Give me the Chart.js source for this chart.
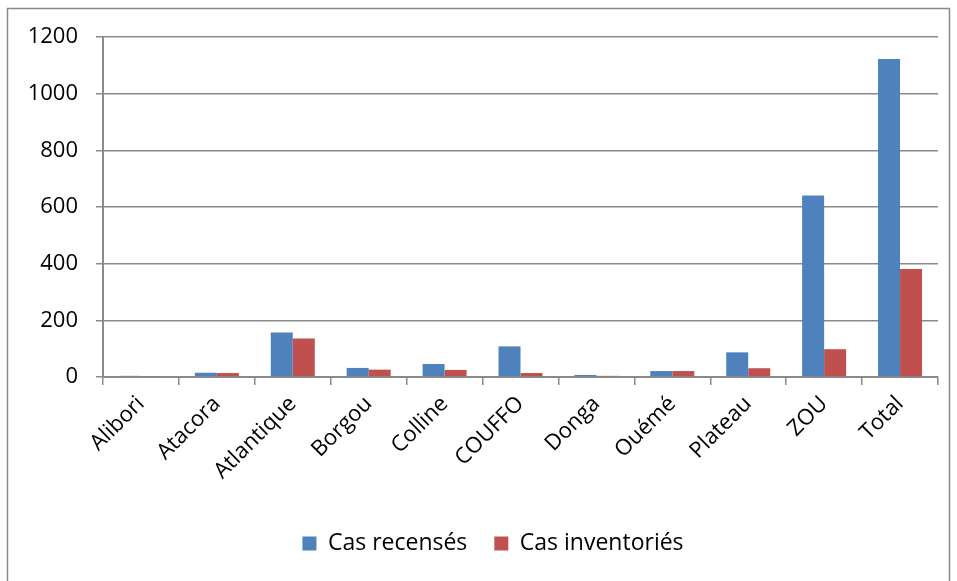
<!DOCTYPE html>
<html>
<head>
<meta charset="utf-8">
<script src="https://cdn.jsdelivr.net/npm/chart.js@4"></script>
<style>
  html, body { margin: 0; padding: 0; background: #fff; overflow: hidden; }
  #wrap { position: relative; width: 957px; height: 581px; }
</style>
</head>
<body>
<div id="wrap"><canvas id="myChart" width="957" height="581"></canvas></div>
<script>
const departements = ["Alibori", "Atacora", "Atlantique", "Borgou", "Colline", "COUFFO", "Donga", "Ouémé", "Plateau", "ZOU", "Total"];
const casRecenses = [4, 15, 157, 32, 46, 108, 7, 21, 87, 641, 1122];
const casInventories = [2, 14, 136, 26, 25, 14, 4, 21, 31, 98, 381];
const yTicks = [0, 200, 400, 600, 800, 1000, 1200];

const FONT = "'Open Sans', 'Liberation Sans', sans-serif";
const GRIS = "#8a8a8a";

// cadre gris autour du graphique + légende un peu décalée à droite
const cadre = {
    id: "cadre",
    afterLayout(chart) {
        if (chart.legend) {
            chart.legend.left += 24;
            chart.legend.right += 24;
        }
    },
    beforeDraw(chart) {
        const c = chart.ctx;
        c.save();
        c.fillStyle = "#fff";
        c.fillRect(0, 0, chart.width, chart.height);
        c.strokeStyle = GRIS;
        c.lineWidth = 1.5;
        c.strokeRect(7.5, 8.5, 942, 600);
        c.restore();
    }
};

const ctx = document.getElementById("myChart").getContext("2d");
const myChart = new Chart(ctx, {
    type: "bar",
    data: {
        labels: departements,
        datasets: [
            { label: "Cas recensés", data: casRecenses, backgroundColor: "#4f81bd" },
            { label: "Cas inventoriés", data: casInventories, backgroundColor: "#c0504d" }
        ]
    },
    options: {
        responsive: false,
        animation: false,
        devicePixelRatio: 1,
        layout: { padding: { top: 37, right: 19, bottom: 16, left: 0 } },
        datasets: { bar: { categoryPercentage: 0.58, barPercentage: 1 } },
        plugins: {
            tooltip: { enabled: false },
            legend: {
                position: "bottom",
                labels: {
                    boxWidth: 14,
                    boxHeight: 14,
                    padding: 27,
                    color: "#000",
                    font: { family: FONT, size: 23 }
                }
            }
        },
        scales: {
            x: {
                grid: { display: true, offset: true, drawOnChartArea: false, drawTicks: true, tickLength: 8, color: GRIS, lineWidth: 1.5 },
                border: { display: true, color: GRIS, width: 2 },
                ticks: {
                    color: "#000",
                    font: { family: FONT, size: 22 },
                    minRotation: 45,
                    maxRotation: 45,
                    padding: 6,
                    autoSkip: false
                },
                afterFit(scale) { scale.height = 128; }
            },
            y: {
                min: 0,
                max: 1200,
                afterBuildTicks(scale) { scale.ticks = yTicks.map(v => ({ value: v })); },
                grid: { color: GRIS, lineWidth: 1.5, drawTicks: true, tickLength: 7 },
                border: { display: true, color: GRIS, width: 2 },
                ticks: {
                    color: "#000",
                    font: { family: FONT, size: 22 },
                    padding: 18,
                    callback: v => String(v)
                },
                afterFit(scale) { scale.width = 103; }
            }
        }
    },
    plugins: [cadre]
});
</script>
</body>
</html>
